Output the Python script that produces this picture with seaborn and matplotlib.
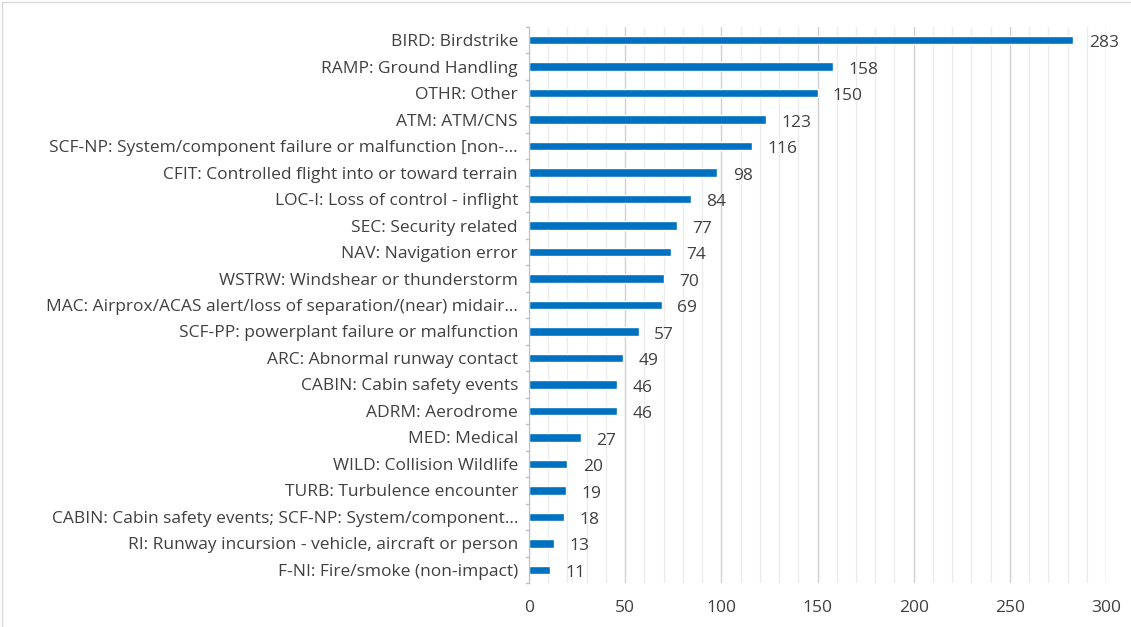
import matplotlib
matplotlib.use("Agg")
import matplotlib.pyplot as plt
from matplotlib.patches import Rectangle
from matplotlib.ticker import MultipleLocator
import pandas as pd
import seaborn as sns

categories = [
    "BIRD: Birdstrike",
    "RAMP: Ground Handling",
    "OTHR: Other",
    "ATM: ATM/CNS",
    "SCF-NP: System/component failure or malfunction [non-…",
    "CFIT: Controlled flight into or toward terrain",
    "LOC-I: Loss of control - inflight",
    "SEC: Security related",
    "NAV: Navigation error",
    "WSTRW: Windshear or thunderstorm",
    "MAC: Airprox/ACAS alert/loss of separation/(near) midair…",
    "SCF-PP: powerplant failure or malfunction",
    "ARC: Abnormal runway contact",
    "CABIN: Cabin safety events",
    "ADRM: Aerodrome",
    "MED: Medical",
    "WILD: Collision Wildlife",
    "TURB: Turbulence encounter",
    "CABIN: Cabin safety events; SCF-NP: System/component…",
    "RI: Runway incursion - vehicle, aircraft or person",
    "F-NI: Fire/smoke (non-impact)",
]
counts = [283, 158, 150, 123, 116, 98, 84, 77, 74, 70, 69, 57, 49, 46, 46, 27, 20, 19, 18, 13, 11]

df = pd.DataFrame({"category": categories, "count": counts})

sns.set_style("white")
plt.rcParams["font.family"] = ["Open Sans", "DejaVu Sans"]
text_color = "#404040"
fs = 12.5

fig = plt.figure(figsize=(11.31, 6.27), dpi=100)
ax = fig.add_axes([529 / 1131, 1 - 583 / 627, (1106 - 529) / 1131, (583 - 27) / 627])

sns.barplot(data=df, x="count", y="category", color="#0070C0",
            width=0.32, saturation=1, ax=ax, orient="h")

ax.set_xlim(0, 300)
ax.set_ylim(len(categories) - 0.5, -0.5)
ax.xaxis.set_major_locator(MultipleLocator(50))
ax.xaxis.set_minor_locator(MultipleLocator(10))
ax.grid(axis="x", which="major", color="#d0d0d0", linewidth=1)
ax.grid(axis="x", which="minor", color="#ececec", linewidth=1)
ax.set_axisbelow(True)

for s in ["top", "right", "bottom"]:
    ax.spines[s].set_visible(False)
ax.spines["left"].set_color("#bfbfbf")

ax.set_xlabel("")
ax.set_ylabel("")
ax.tick_params(axis="x", which="both", length=0, labelsize=fs, colors=text_color, pad=12)
ax.tick_params(axis="y", length=0, labelsize=fs, colors=text_color, pad=8)

# small separator ticks on the category axis
for i in range(len(categories) + 1):
    ax.plot([-1.5, 0], [i - 0.5, i - 0.5], color="#bfbfbf", lw=1, clip_on=False)

for i, v in enumerate(counts):
    ax.text(v + 8, i + 0.12, str(v), va="center", ha="left", fontsize=fs, color=text_color)

fig.patches.append(Rectangle((2 / 1131, -0.01), 1.02, 1 - 2 / 627 + 0.01,
                             transform=fig.transFigure, fill=False,
                             edgecolor="#d9d9d9", lw=1))

fig.savefig("out.png", dpi=100)
